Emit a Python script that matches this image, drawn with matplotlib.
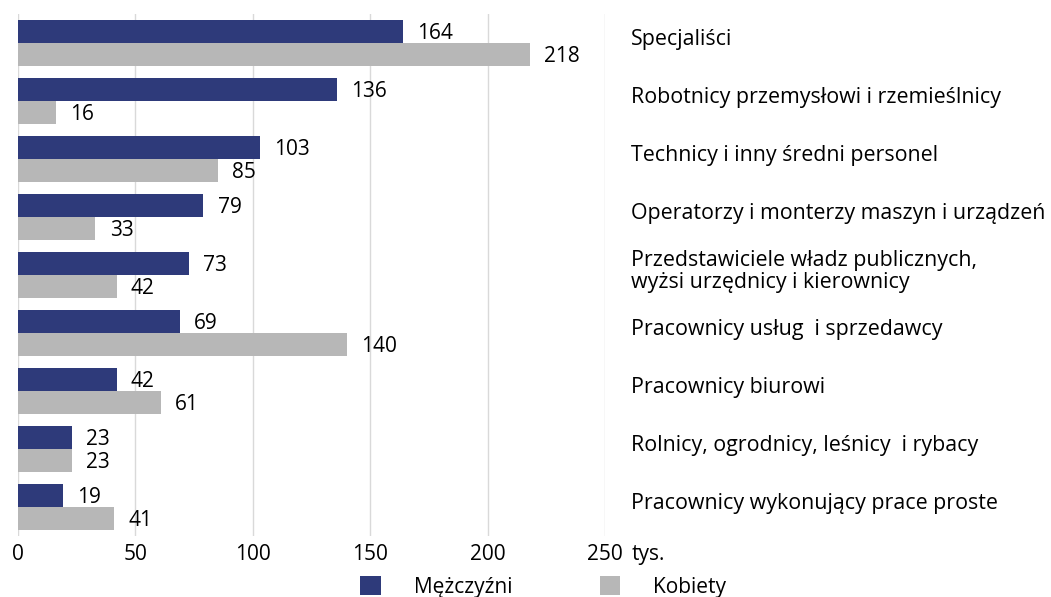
import matplotlib
matplotlib.use("Agg")
import matplotlib.pyplot as plt
from matplotlib.patches import Patch

plt.rcParams['font.family'] = ['Open Sans', 'DejaVu Sans']

categories = [
    "Specjaliści",
    "Robotnicy przemysłowi i rzemieślnicy",
    "Technicy i inny średni personel",
    "Operatorzy i monterzy maszyn i urządzeń",
    "Przedstawiciele władz publicznych,\nwyżsi urzędnicy i kierownicy",
    "Pracownicy usług  i sprzedawcy",
    "Pracownicy biurowi",
    "Rolnicy, ogrodnicy, leśnicy  i rybacy",
    "Pracownicy wykonujący prace proste",
]
men = [164, 136, 103, 79, 73, 69, 42, 23, 19]
women = [218, 16, 85, 33, 42, 140, 61, 23, 41]
xticks = [0, 50, 100, 150, 200, 250]
series_names = ["Mężczyźni", "Kobiety"]

navy = "#2E3A7A"
gray = "#B7B7B7"
fs = 15

fig = plt.figure(figsize=(10.51, 5.97), dpi=100)
ax = fig.add_axes([18/1051, 1-536/597, (605-18)/1051, (536-14)/597])

n = len(categories)
ys = list(range(n))
h = 0.397
ax.barh([y - h/2 for y in ys], men, height=h, color=navy, zorder=3)
ax.barh([y + h/2 for y in ys], women, height=h, color=gray, zorder=3)

for y, v in zip(ys, men):
    ax.text(v + 6, y - h/2 + 0.04, str(v), va='center', ha='left', fontsize=fs, color='black')
for y, v in zip(ys, women):
    ax.text(v + 6, y + h/2 + 0.04, str(v), va='center', ha='left', fontsize=fs, color='black')

for y, c in zip(ys, categories):
    ax.text(261, y - 0.06, c, va='center', ha='left', fontsize=15.4, color='black',
            linespacing=1.05, clip_on=False)

ax.set_xlim(0, 250)
ax.set_ylim(n - 0.5, -0.5)
ax.set_xticks(xticks)
ax.set_xticklabels([str(t) for t in xticks], fontsize=fs)
ax.set_yticks([])
ax.tick_params(axis='x', length=0, pad=6)
ax.grid(axis='x', color='#D9D9D9', linewidth=1, zorder=0)
for s in ax.spines.values():
    s.set_visible(False)
ax.annotate("tys.", xy=(261.5, 0), xycoords=('data', 'axes fraction'),
            xytext=(0, -6), textcoords='offset points', fontsize=fs,
            va='top', ha='left', annotation_clip=False)

handles = [Patch(facecolor=navy, edgecolor='none'), Patch(facecolor=gray, edgecolor='none')]
fig.legend(handles, series_names, loc='center', bbox_to_anchor=(543/1051, 1-587/597),
           ncol=2, frameon=False, fontsize=fs, handlelength=1.0, handleheight=1.0,
           columnspacing=4.2, handletextpad=1.55)

fig.savefig("out.png", dpi=100)
